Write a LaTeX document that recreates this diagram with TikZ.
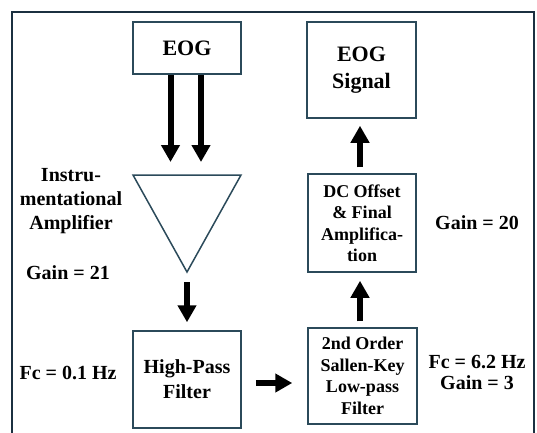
\documentclass[tikz,border=0pt]{standalone}
\usepackage{fontspec}
\setmainfont{Liberation Serif}
\usetikzlibrary{arrows.meta, positioning}

\definecolor{framecol}{HTML}{1B3040}
\definecolor{boxcol}{HTML}{2B4A5A}

\begin{document}
\begin{tikzpicture}[
            x=1pt, y=-1pt,
            % Stile per i blocchi
            block/.style={draw=boxcol, line width=1.5pt, align=center, inner sep=0pt},
            % Stile per le frecce grosse
            bigarrow/.style={line width=6pt, -{Triangle[width=18pt,length=17pt]}},
            % Stile per le etichette di testo
            note/.style={align=center, font=\fontsize{20}{24}\selectfont\bfseries}
        ]

            \useasboundingbox (0,0) rectangle (537,432);
            % --- Cornice esterna ---
            \draw[framecol, line width=2.5pt] (12,12) rectangle (534,445);

            % --- Blocchi ---
            \node[block, minimum width=108pt, minimum height=52pt,
                  font=\fontsize{22}{27}\selectfont\bfseries] (eog) at (187,48) {EOG};
            \node[block, minimum width=108pt, minimum height=97pt,
                  font=\fontsize{20}{25}\selectfont\bfseries] (hpf) at (187,379.5) {High-Pass\\Filter};
            \node[block, minimum width=109pt, minimum height=96pt,
                  font=\fontsize{18}{21.5}\selectfont\bfseries] (lpf) at (362.5,376) {2nd Order\\Sallen-Key\\Low-pass\\Filter};
            \node[block, minimum width=108pt, minimum height=98pt,
                  font=\fontsize{18}{21.5}\selectfont\bfseries] (dc) at (362,223) {DC Offset\\\& Final\\Amplifica-\\tion};
            \node[block, minimum width=109pt, minimum height=96pt,
                  font=\fontsize{22}{27}\selectfont\bfseries] (sig) at (361.5,70) {EOG\\Signal};

            % --- Amplificatore (triangolo) ---
            \coordinate (ampL) at (133,175);
            \coordinate (ampR) at (241,175);
            \coordinate (ampTip) at (187,272);
            \draw[boxcol, line width=1.5pt, line join=miter] (ampL) -- (ampR) -- (ampTip) -- cycle;
            \coordinate (inA) at (170.5,175);
            \coordinate (inB) at (201,175);

            % --- Frecce ---
            \draw[bigarrow, shorten >=13pt] (eog.south -| inA) -- (inA);
            \draw[bigarrow, shorten >=13pt] (eog.south -| inB) -- (inB);
            \draw[bigarrow, shorten <=10pt, shorten >=8pt] (ampTip) -- (hpf.north);
            \draw[bigarrow, shorten <=14pt, shorten >=15pt] (hpf.east |- 0,383) -- (lpf.west |- 0,383);
            \draw[bigarrow, shorten <=6pt, shorten >=8pt] (lpf.north -| 360,0) -- (dc.south -| 360,0);
            \draw[bigarrow, shorten <=6pt, shorten >=7pt] (dc.north -| 360,0) -- (sig.south -| 360,0);

            % --- Etichette ---
            \node[note] (amplabel) at (71,201) {Instru-\\mentational\\Amplifier};
            \node[note] (gainA) at (68,273) {Gain = 21};
            \node[note] (fcA) at (68,373) {Fc = 0.1 Hz};
            \node[note] (gainB) at (477,223) {Gain = 20};
            \node[note, font=\fontsize{20}{21}\selectfont\bfseries] (fcB) at (477,372.5) {Fc = 6.2 Hz\\Gain = 3};

        \end{tikzpicture}
\end{document}
